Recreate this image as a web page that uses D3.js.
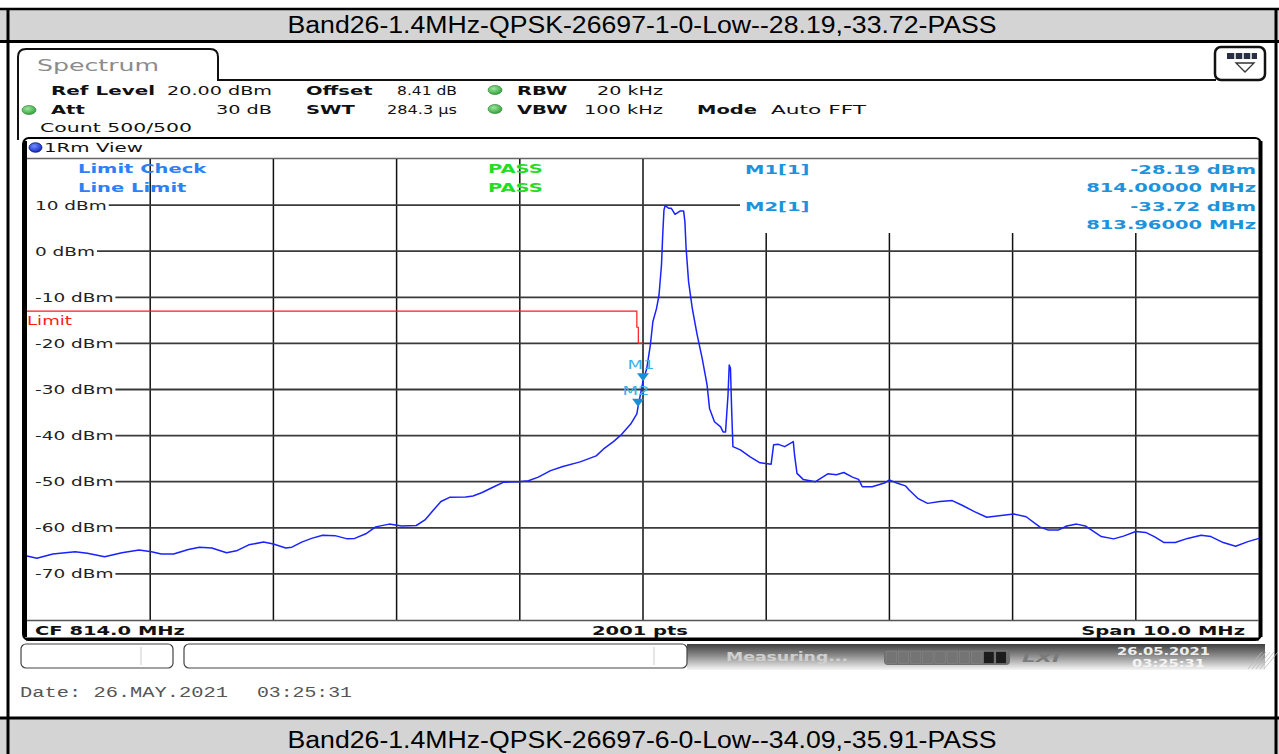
<!DOCTYPE html>
<html>
<head>
<meta charset="utf-8">
<script src="https://cdn.jsdelivr.net/npm/d3@7"></script>
<style>
  html, body { margin: 0; padding: 0; background: #fff; }
  svg { display: block; }
</style>
</head>
<body>
<svg id="screen" width="1279" height="754"></svg>
<script>
// ---- Measurement data -------------------------------------------------
// Trace 1 (Max hold), frequency in MHz
const traceFreq = [
  809.00, 809.08, 809.21, 809.39, 809.49, 809.63, 809.77, 809.91, 810.01, 810.09,
  810.19, 810.31, 810.40, 810.50, 810.62, 810.70, 810.80, 810.92, 811.00, 811.10,
  811.15, 811.23, 811.31, 811.40, 811.50, 811.60, 811.66, 811.75, 811.83, 811.94,
  812.04, 812.16, 812.23, 812.31, 812.36, 812.43, 812.56, 812.62, 812.69, 812.79,
  812.87, 812.99, 813.07, 813.15, 813.25, 813.35, 813.49, 813.62, 813.68, 813.76,
  813.82, 813.90, 813.95, 813.96, 813.98, 814.00, 814.03, 814.06, 814.08, 814.11,
  814.13, 814.15, 814.16, 814.17, 814.18, 814.21, 814.23, 814.26, 814.30, 814.33,
  814.34, 814.35, 814.37, 814.40, 814.44, 814.48, 814.52, 814.54, 814.58, 814.63,
  814.65, 814.67, 814.69, 814.70, 814.71, 814.72, 814.73, 814.79, 814.87, 814.95,
  815.04, 815.06, 815.10, 815.15, 815.22, 815.23, 815.25, 815.30, 815.40, 815.50,
  815.57, 815.63, 815.70, 815.75, 815.78, 815.86, 815.96, 816.00, 816.06, 816.13,
  816.16, 816.23, 816.31, 816.41, 816.51, 816.59, 816.69, 816.79, 816.89, 817.01,
  817.11, 817.22, 817.29, 817.37, 817.44, 817.52, 817.59, 817.72, 817.82, 817.90,
  818.00, 818.08, 818.15, 818.23, 818.32, 818.42, 818.53, 818.61, 818.71, 818.81,
  818.91, 819.00
];
// Trace 1 level in dBm
const traceLevel = [
  -66.1, -66.6, -65.7, -65.2, -65.5, -66.3, -65.4, -64.8, -65.2, -65.7,
  -65.7, -64.7, -64.2, -64.4, -65.4, -65.0, -63.7, -63.1, -63.5, -64.4,
  -64.2, -63.1, -62.3, -61.6, -61.7, -62.4, -62.3, -61.3, -59.8, -59.2,
  -59.6, -59.5, -58.3, -55.8, -54.3, -53.4, -53.3, -53.1, -52.4, -51.1,
  -50.1, -50.0, -49.8, -49.0, -47.6, -46.7, -45.7, -44.4, -42.9, -41.3,
  -39.9, -37.5, -35.3, -33.72, -31.0, -28.19, -25.5, -20.3, -15.3, -12.4,
  -9.5, -3.0, 3.5, 8.9, 9.9, 9.3, 9.3, 8.0, 8.7, 8.7,
  6.4, 0.6, -6.6, -12.4, -18.2, -23.2, -29.0, -34.1, -37.0, -38.1,
  -39.2, -39.2, -31.2, -24.7, -25.4, -34.8, -42.4, -43.1, -44.6, -45.9,
  -46.2, -42.0, -41.9, -42.4, -41.3, -44.2, -48.2, -49.5, -50.0, -48.3,
  -48.5, -48.0, -49.0, -49.5, -51.1, -51.1, -50.3, -49.6, -50.3, -50.9,
  -51.8, -53.6, -54.7, -54.3, -54.1, -55.1, -56.5, -57.7, -57.4, -57.0,
  -57.6, -59.8, -60.5, -60.5, -59.6, -59.2, -59.6, -61.9, -62.4, -61.8,
  -60.8, -61.0, -61.9, -63.2, -63.2, -62.3, -61.6, -61.9, -63.2, -64.0,
  -63.0, -62.3
];
// Limit line
const limitFreq  = [809.0, 813.95, 813.95, 813.962, 813.962, 814.0];
const limitLevel = [-13, -13, -16.5, -16.5, -20, -20];
// Axis
const levelTicks = [10, 0, -10, -20, -30, -40, -50, -60, -70];
const freqGrid = [810, 811, 812, 813, 814, 815, 816, 817, 818];
const freqStart = 809, freqStop = 819, refLevel = 20, bottomLevel = -80;
// Markers
const markerNames = ["M1", "M2"];
const markerFreq  = [814.0, 813.96];
const markerLevel = [-28.19, -33.72];
// Header / footer text
const titleTop = "Band26-1.4MHz-QPSK-26697-1-0-Low--28.19,-33.72-PASS";
const titleBottom = "Band26-1.4MHz-QPSK-26697-6-0-Low--34.09,-35.91-PASS";

// ---- Drawing ----------------------------------------------------------
const svg = d3.select("#screen");
const FONT = "DejaVu Sans";

// Text in the wide instrument face: glyphs are stretched to a target width
function label(g, x, y, s, o = {}) {
  const t = g.append("text")
    .attr("x", x).attr("y", y).text(s)
    .attr("font-family", o.family || FONT)
    .attr("font-size", o.size || 13)
    .attr("font-weight", o.bold ? "bold" : "normal")
    .attr("font-style", o.italic ? "italic" : "normal")
    .attr("fill", o.fill || "#111")
    .attr("text-anchor", o.anchor || "start");
  if (o.opacity != null) t.attr("opacity", o.opacity);
  const k = o.k || (o.bold ? 1.5 : 1.42);
  const w = o.width || t.node().getComputedTextLength() * k;
  t.attr("textLength", w).attr("lengthAdjust", "spacingAndGlyphs");
  t.property("__w", w);
  return t;
}

const defs = svg.append("defs");
const gStat = defs.append("linearGradient").attr("id", "statusGrad")
  .attr("x1", 0).attr("y1", 0).attr("x2", 0).attr("y2", 1);
gStat.append("stop").attr("offset", 0).attr("stop-color", "#3e3e3e");
gStat.append("stop").attr("offset", 0.45).attr("stop-color", "#8c8c8c");
gStat.append("stop").attr("offset", 1).attr("stop-color", "#f6f6f6");
const gDot = defs.append("radialGradient").attr("id", "greenDot")
  .attr("cx", 0.4).attr("cy", 0.35).attr("r", 0.7);
gDot.append("stop").attr("offset", 0).attr("stop-color", "#9be79b");
gDot.append("stop").attr("offset", 1).attr("stop-color", "#2e9e38");
const gBlue = defs.append("radialGradient").attr("id", "blueDot")
  .attr("cx", 0.4).attr("cy", 0.35).attr("r", 0.7);
gBlue.append("stop").attr("offset", 0).attr("stop-color", "#6f8cff");
gBlue.append("stop").attr("offset", 1).attr("stop-color", "#0b25b8");

// Caption bars
svg.append("rect").attr("x", 0).attr("y", 9).attr("width", 1279).attr("height", 32).attr("fill", "#d4d4d4");
svg.append("line").attr("x1", 0).attr("x2", 1279).attr("y1", 9).attr("y2", 9).attr("stroke", "#000").attr("stroke-width", 2.5);
svg.append("line").attr("x1", 0).attr("x2", 1279).attr("y1", 41.5).attr("y2", 41.5).attr("stroke", "#000").attr("stroke-width", 3);
label(svg, 642, 33, titleTop, { family: "Liberation Sans", size: 23, anchor: "middle", width: 709, fill: "#000" });

svg.append("rect").attr("x", 0).attr("y", 719).attr("width", 1279).attr("height", 35).attr("fill", "#d4d4d4");
svg.append("line").attr("x1", 0).attr("x2", 1279).attr("y1", 718).attr("y2", 718).attr("stroke", "#000").attr("stroke-width", 3);
label(svg, 642, 748, titleBottom, { family: "Liberation Sans", size: 23, anchor: "middle", width: 709, fill: "#000" });

// Outer frame sides
svg.append("line").attr("x1", 8).attr("x2", 8).attr("y1", 9).attr("y2", 754).attr("stroke", "#000").attr("stroke-width", 3);
svg.append("line").attr("x1", 1276).attr("x2", 1276).attr("y1", 9).attr("y2", 754).attr("stroke", "#000").attr("stroke-width", 3);

// Spectrum tab
svg.append("path")
  .attr("d", "M18,140 V57 Q18,49 26,49 H210 Q218,49 218,57 V80 H1216")
  .attr("fill", "none").attr("stroke", "#111").attr("stroke-width", 2);
label(svg, 37, 71, "Spectrum", { size: 15, fill: "#8c8c8c", width: 122 });

// Display-config button
svg.append("rect").attr("x", 1215).attr("y", 47).attr("width", 50).attr("height", 33).attr("rx", 6)
  .attr("fill", "#fff").attr("stroke", "#111").attr("stroke-width", 2.5);
svg.append("rect").attr("x", 1227).attr("y", 53).attr("width", 30).attr("height", 6).attr("fill", "#2a2f45");
[1235, 1243, 1251].forEach(x => svg.append("line").attr("x1", x).attr("x2", x).attr("y1", 53).attr("y2", 59).attr("stroke", "#fff").attr("stroke-width", 1.5));
svg.append("path").attr("d", "M1236,63 H1254 L1245,72 Z").attr("fill", "none").attr("stroke", "#333").attr("stroke-width", 1.3);

// Setting rows
const info = svg.append("g");
function dot(cx, cy) {
  info.append("ellipse").attr("cx", cx).attr("cy", cy).attr("rx", 7).attr("ry", 4.5)
    .attr("fill", "url(#greenDot)").attr("stroke", "#2a7a2f").attr("stroke-width", 0.6);
}
label(info, 51, 95, "Ref Level", { bold: true, width: 104 });
label(info, 272, 95, "20.00 dBm", { anchor: "end", width: 105 });
label(info, 306, 95, "Offset", { bold: true });
label(info, 457, 95, "8.41 dB", { anchor: "end", width: 60 });
dot(495, 90);
label(info, 517, 95, "RBW", { bold: true });
label(info, 663, 95, "20 kHz", { anchor: "end", width: 66 });

dot(29, 110);
label(info, 51, 114, "Att", { bold: true });
label(info, 272, 114, "30 dB", { anchor: "end", width: 56 });
label(info, 306, 114, "SWT", { bold: true });
label(info, 457, 114, "284.3 µs", { anchor: "end", width: 70 });
dot(495, 109);
label(info, 517, 114, "VBW", { bold: true });
label(info, 663, 114, "100 kHz", { anchor: "end", width: 79 });
label(info, 697, 114, "Mode", { bold: true });
label(info, 771, 114, "Auto FFT", { width: 95 });

label(info, 40, 132, "Count 500/500", { width: 152 });

// Result window frame
const win = svg.append("g");
win.append("rect").attr("x", 23).attr("y", 138).attr("width", 1238).attr("height", 502).attr("rx", 6)
  .attr("fill", "#fff").attr("stroke", "#000").attr("stroke-width", 2);
win.append("line").attr("x1", 25).attr("x2", 25).attr("y1", 141).attr("y2", 637).attr("stroke", "#000").attr("stroke-width", 4);
win.append("line").attr("x1", 1260.5).attr("x2", 1260.5).attr("y1", 141).attr("y2", 637).attr("stroke", "#000").attr("stroke-width", 4);
win.append("line").attr("x1", 26).attr("x2", 1259).attr("y1", 639).attr("y2", 639).attr("stroke", "#000").attr("stroke-width", 3);
win.append("line").attr("x1", 27).attr("x2", 1259).attr("y1", 158.5).attr("y2", 158.5).attr("stroke", "#666").attr("stroke-width", 1.5);
win.append("ellipse").attr("cx", 35.5).attr("cy", 147.5).attr("rx", 6.5).attr("ry", 4.8)
  .attr("fill", "url(#blueDot)").attr("stroke", "#061a80").attr("stroke-width", 0.8);
label(win, 44, 152, "1Rm View", { size: 12.5, width: 99 });

// Scales
const x = d3.scaleLinear().domain([freqStart, freqStop]).range([27, 1259]);
const y = d3.scaleLinear().domain([bottomLevel, refLevel]).range([620, 159]);

// Grid
const grid = svg.append("g");
freqGrid.forEach(f => {
  grid.append("line").attr("x1", x(f)).attr("x2", x(f))
    .attr("y1", f > 814 ? 233 : 159).attr("y2", 620)
    .attr("stroke", "#111").attr("stroke-width", 1.5);
});
levelTicks.forEach(v => {
  const t = label(grid, 35, y(v) + 4.5, `${v} dBm`, { fill: "#222" });
  const x0 = 35 + t.property("__w") + 2;
  grid.append("line").attr("x1", x0).attr("x2", v === 10 ? 740 : 1259)
    .attr("y1", y(v)).attr("y2", y(v))
    .attr("stroke", "#3a3a3a").attr("stroke-width", 1.8);
});
// Plot bottom / sweep info bar separator
grid.append("line").attr("x1", 27).attr("x2", 1259).attr("y1", 620.5).attr("y2", 620.5)
  .attr("stroke", "#555").attr("stroke-width", 1.5);

// Limit line
const lineGen = d3.line().x(d => x(d[0])).y(d => y(d[1]));
svg.append("path").datum(d3.zip(limitFreq, limitLevel))
  .attr("d", lineGen).attr("fill", "none").attr("stroke", "#ff1a1a").attr("stroke-width", 1.2);
label(svg, 27, y(-13) + 14, "Limit", { fill: "#ff1a1a", size: 12.5, width: 45 });

// Trace
svg.append("path").datum(d3.zip(traceFreq, traceLevel))
  .attr("d", lineGen).attr("fill", "none")
  .attr("stroke", "#1a22ff").attr("stroke-width", 1.5).attr("stroke-linejoin", "round");

// Markers
markerNames.forEach((m, i) => {
  const cx = x(markerFreq[i]), cy = y(markerLevel[i]);
  svg.append("path").attr("d", `M${cx - 6},${cy - 8} L${cx + 6},${cy - 8} L${cx},${cy} Z`)
    .attr("fill", "#1a8fd6");
  label(svg, cx - 2, cy - 12, m, { anchor: "middle", size: 12, fill: "#39b0ea", width: 27 });
});

// Limit check / marker table
const MC = "#1d93db";
label(svg, 78, 173, "Limit Check", { bold: true, fill: "#2d80f6" });
label(svg, 78, 192, "Line Limit", { bold: true, fill: "#2d80f6" });
label(svg, 488, 173, "PASS", { bold: true, fill: "#22dd22" });
label(svg, 488, 192, "PASS", { bold: true, fill: "#22dd22" });
label(svg, 745, 174, "M1[1]", { bold: true, fill: MC });
label(svg, 745, 211, "M2[1]", { bold: true, fill: MC });
label(svg, 1256, 174, `${markerLevel[0].toFixed(2)} dBm`, { bold: true, fill: MC, anchor: "end" });
label(svg, 1256, 192, `${markerFreq[0].toFixed(5)} MHz`, { bold: true, fill: MC, anchor: "end" });
label(svg, 1256, 211, `${markerLevel[1].toFixed(2)} dBm`, { bold: true, fill: MC, anchor: "end" });
label(svg, 1256, 229, `${markerFreq[1].toFixed(5)} MHz`, { bold: true, fill: MC, anchor: "end" });

// Sweep info bar
label(svg, 35, 635, "CF 814.0 MHz", { bold: true });
label(svg, 640, 635, "2001 pts", { bold: true, anchor: "middle" });
label(svg, 1245, 635, "Span 10.0 MHz", { bold: true, anchor: "end" });

// Status bar
const st = svg.append("g");
st.append("rect").attr("x", 687).attr("y", 644).attr("width", 578).attr("height", 26).attr("fill", "url(#statusGrad)");
st.append("rect").attr("x", 21).attr("y", 644).attr("width", 152).attr("height", 24).attr("rx", 5)
  .attr("fill", "#fff").attr("stroke", "#444").attr("stroke-width", 1.2);
st.append("line").attr("x1", 141).attr("x2", 141).attr("y1", 647).attr("y2", 665).attr("stroke", "#ccc");
st.append("rect").attr("x", 184).attr("y", 644).attr("width", 503).attr("height", 24).attr("rx", 5)
  .attr("fill", "#fff").attr("stroke", "#444").attr("stroke-width", 1.2);
st.append("line").attr("x1", 654).attr("x2", 654).attr("y1", 647).attr("y2", 665).attr("stroke", "#ccc");
label(st, 726, 661, "Measuring...", { bold: true, size: 11.5, fill: "#cfcfcf", width: 122 });
st.append("rect").attr("x", 884).attr("y", 650).attr("width", 126).attr("height", 15).attr("rx", 4).attr("fill", "#6f6f6f");
for (let i = 0; i < 10; i++) {
  const sx = 886 + i * 12.2;
  st.append("rect").attr("x", sx).attr("y", 651.5).attr("width", 10.5).attr("height", 12)
    .attr("fill", i >= 8 ? "#1c1c1c" : "#747474").attr("stroke", "#8a8a8a").attr("stroke-width", 0.5);
}
label(st, 1022, 662, "LXI", { bold: true, italic: true, size: 13, fill: "#7b7b7b", width: 38 });
label(st, 1117, 655, "26.05.2021", { bold: true, size: 10.5, fill: "#eeeeee", width: 93 });
label(st, 1132, 667, "03:25:31", { bold: true, size: 10.5, fill: "#f4f4f4", width: 73 });
for (let i = 0; i < 5; i++) {
  st.append("line").attr("x1", 1248 + i * 4).attr("y1", 669).attr("x2", 1262 + i * 4).attr("y2", 652)
    .attr("stroke", "#bbb").attr("stroke-width", 0.8);
}

// Date stamp
label(svg, 20, 697, "Date: 26.MAY.2021", { family: "Liberation Mono", size: 14, fill: "#555", width: 208 });
label(svg, 257, 697, "03:25:31", { family: "Liberation Mono", size: 14, fill: "#555", width: 95 });
</script>
</body>
</html>
